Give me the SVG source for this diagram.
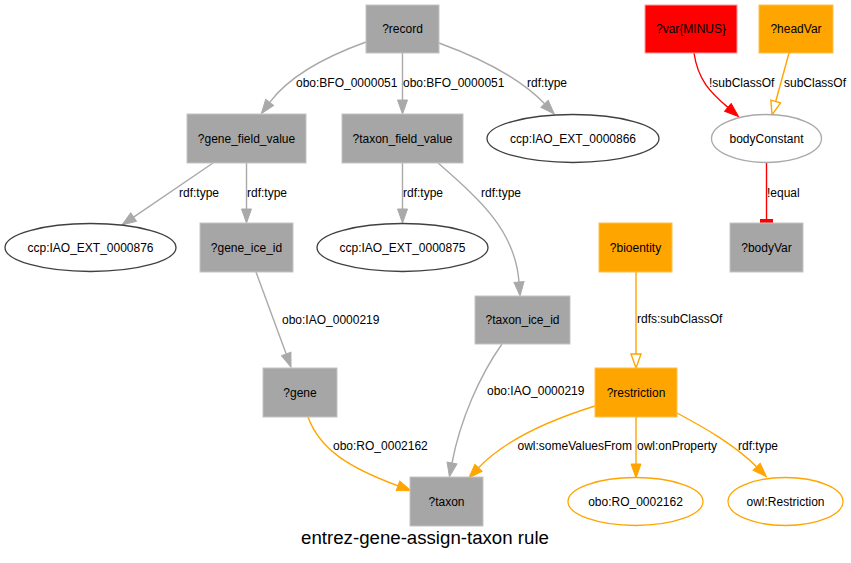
<svg xmlns="http://www.w3.org/2000/svg" width="851" height="563" viewBox="0 0 851 563">
<style>
text{font-family:"Liberation Sans",Arial,sans-serif;font-size:12px;fill:#000}
.c{text-anchor:middle}
.e{text-anchor:end}
.title{font-size:18.67px;text-anchor:middle}
.gbox{fill:#A6A6A6;stroke:#C4C4C4;stroke-width:1}
.obox{fill:#FFA500;stroke:#FFC04D;stroke-width:1}
.rbox{fill:#FF0000;stroke:#FF9A9A;stroke-width:1}
.ell{fill:#fff;stroke:#404040;stroke-width:1.3}
.gell{fill:#fff;stroke:#A9A9A9;stroke-width:1.3}
.oell{fill:#fff;stroke:#FFA500;stroke-width:1.3}
.eg{fill:none;stroke:#A9A9A9;stroke-width:1.4}
.eo{fill:none;stroke:#FFA500;stroke-width:1.4}
.er{fill:none;stroke:#FF0000;stroke-width:1.4}
</style>
<defs>
<marker id="ag" markerUnits="userSpaceOnUse" markerWidth="16" markerHeight="12" refX="0" refY="0" viewBox="-1 -6 16 12" orient="auto"><path d="M0,-5 L14,0 L0,5 z" fill="#A9A9A9" stroke="#A9A9A9" stroke-width="1"/></marker>
<marker id="ao" markerUnits="userSpaceOnUse" markerWidth="16" markerHeight="12" refX="0" refY="0" viewBox="-1 -6 16 12" orient="auto"><path d="M0,-5 L14,0 L0,5 z" fill="#FFA500" stroke="#FFA500" stroke-width="1"/></marker>
<marker id="ar" markerUnits="userSpaceOnUse" markerWidth="16" markerHeight="12" refX="0" refY="0" viewBox="-1 -6 16 12" orient="auto"><path d="M0,-5 L14,0 L0,5 z" fill="#FF0000" stroke="#FF0000" stroke-width="1"/></marker>
<marker id="oo" markerUnits="userSpaceOnUse" markerWidth="16" markerHeight="12" refX="0" refY="0" viewBox="-1 -6 16 12" orient="auto"><path d="M0,-5 L14,0 L0,5 z" fill="#fff" stroke="#FFA500" stroke-width="1.4"/></marker>
</defs>

<g id="connectors">
<g id="e-record-gfv"><path class="eg" d="M366,42 C330,55 290,75 269.7,102.4" marker-end="url(#ag)"/><text x="296" y="87">obo:BFO_0000051</text></g>
<g id="e-record-tfv"><path class="eg" d="M402.5,53 L402.5,100" marker-end="url(#ag)"/><text x="403" y="87">obo:BFO_0000051</text></g>
<g id="e-record-866"><path class="eg" d="M439,43 C480,58 520,78 544.6,103.8" marker-end="url(#ag)"/><text x="527" y="87">rdf:type</text></g>
<g id="e-var-body"><path class="er" d="M694,53 C698,80 710,92 727.9,107.4" marker-end="url(#ar)"/><text x="709" y="87">!subClassOf</text></g>
<g id="e-head-body"><path class="eo" d="M789,53 L775.7,101.5" marker-end="url(#oo)"/><text x="784" y="87">subClassOf</text></g>
<g id="e-gfv-876"><path class="eg" d="M213,163 L133.6,217.1" marker-end="url(#ag)"/><text x="179" y="197">rdf:type</text></g>
<g id="e-gfv-gii"><path class="eg" d="M246.5,163 L246.5,209" marker-end="url(#ag)"/><text x="247" y="197">rdf:type</text></g>
<g id="e-tfv-875"><path class="eg" d="M402.5,163 L402.5,209" marker-end="url(#ag)"/><text x="403" y="197">rdf:type</text></g>
<g id="e-tfv-tii"><path class="eg" d="M438,163 C480,200 515,230 519,282" marker-end="url(#ag)"/><text x="481" y="197">rdf:type</text></g>
<g id="e-body-bodyvar"><path class="er" d="M766.5,163 L766.5,221"/><rect x="760" y="219" width="13" height="4" fill="#FF0000"/><text x="767" y="197">!equal</text></g>
<g id="e-gii-gene"><path class="eg" d="M256,272 L286.2,353.9" marker-end="url(#ag)"/><text x="282" y="324">obo:IAO_0000219</text></g>
<g id="e-bio-restr"><path class="eo" d="M636,272 L636,354" marker-end="url(#oo)"/><text x="637" y="323">rdfs:subClassOf</text></g>
<g id="e-tii-taxon"><path class="eg" d="M502,344 C480,375 460,420 452,463" marker-end="url(#ag)"/><text x="487" y="395">obo:IAO_0000219</text></g>
<g id="e-gene-taxon"><path class="eo" d="M308,417 C320,450 350,468 398,485.8" marker-end="url(#ao)"/><text x="333" y="450">obo:RO_0002162</text></g>
<g id="e-restr-taxon"><path class="eo" d="M595,406 C550,420 505,440 478.5,467.8" marker-end="url(#ao)"/><text class="e" x="632" y="450">owl:someValuesFrom</text></g>
<g id="e-restr-ro"><path class="eo" d="M636,417 L636,464" marker-end="url(#ao)"/><text x="637" y="450">owl:onProperty</text></g>
<g id="e-restr-owl"><path class="eo" d="M677,413 C705,428 735,445 756.6,466.8" marker-end="url(#ao)"/><text x="738" y="450">rdf:type</text></g>
</g>

<g id="record"><rect class="gbox" x="366" y="5" width="73" height="48"/><text class="c" x="402.5" y="33">?record</text></g>
<g id="var_minus"><rect class="rbox" x="645" y="5" width="92" height="48"/><text class="c" x="691" y="33">?var{MINUS}</text></g>
<g id="headVar"><rect class="obox" x="759" y="5" width="74" height="48"/><text class="c" x="796" y="33">?headVar</text></g>
<g id="gene_field_value"><rect class="gbox" x="187" y="114" width="119" height="49"/><text class="c" x="246.5" y="142.5">?gene_field_value</text></g>
<g id="taxon_field_value"><rect class="gbox" x="342" y="114" width="121" height="49"/><text class="c" x="402.5" y="142.5">?taxon_field_value</text></g>
<g id="ccp866"><ellipse class="ell" cx="573" cy="138.5" rx="86" ry="24"/><text class="c" x="573" y="142.5">ccp:IAO_EXT_0000866</text></g>
<g id="bodyConstant"><ellipse class="gell" cx="766.5" cy="138.5" rx="55" ry="24"/><text class="c" x="766.5" y="142.5">bodyConstant</text></g>
<g id="ccp876"><ellipse class="ell" cx="90.5" cy="247.5" rx="85.5" ry="24"/><text class="c" x="90.5" y="251.5">ccp:IAO_EXT_0000876</text></g>
<g id="gene_ice_id"><rect class="gbox" x="200" y="223" width="93" height="49"/><text class="c" x="246.5" y="251.5">?gene_ice_id</text></g>
<g id="ccp875"><ellipse class="ell" cx="402.5" cy="247.5" rx="85.5" ry="24"/><text class="c" x="402.5" y="251.5">ccp:IAO_EXT_0000875</text></g>
<g id="bioentity"><rect class="obox" x="599" y="223" width="73" height="49"/><text class="c" x="635.5" y="251.5">?bioentity</text></g>
<g id="bodyVar"><rect class="gbox" x="730" y="223" width="73" height="49"/><text class="c" x="766.5" y="251.5">?bodyVar</text></g>
<g id="taxon_ice_id"><rect class="gbox" x="475" y="296" width="95" height="48"/><text class="c" x="522.5" y="324">?taxon_ice_id</text></g>
<g id="gene"><rect class="gbox" x="263" y="368" width="74" height="49"/><text class="c" x="300" y="396.5">?gene</text></g>
<g id="restriction"><rect class="obox" x="595" y="368" width="82" height="49"/><text class="c" x="636" y="396.5">?restriction</text></g>
<g id="taxon"><rect class="gbox" x="410" y="477" width="73" height="49"/><text class="c" x="446.5" y="505.5">?taxon</text></g>
<g id="ro"><ellipse class="oell" cx="635.5" cy="501.5" rx="67.5" ry="24"/><text class="c" x="635.5" y="505.5">obo:RO_0002162</text></g>
<g id="owlRestriction"><ellipse class="oell" cx="785.5" cy="501.5" rx="57.5" ry="24"/><text class="c" x="785.5" y="505.5">owl:Restriction</text></g>

<text class="title" x="425" y="544">entrez-gene-assign-taxon rule</text>
</svg>
